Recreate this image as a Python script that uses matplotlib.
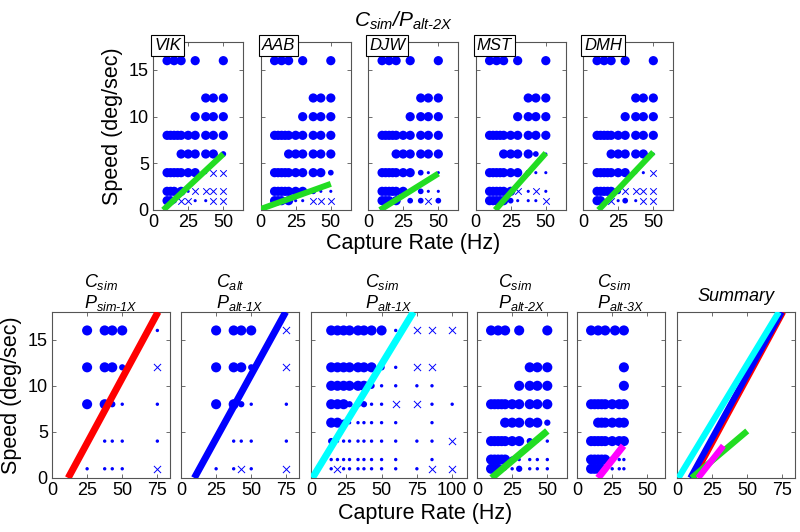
import matplotlib.pyplot as plt

plt.rcParams['font.family'] = 'Liberation Sans'
plt.rcParams['mathtext.fontset'] = 'custom'
plt.rcParams['mathtext.rm'] = 'Liberation Sans:italic'
plt.rcParams['mathtext.it'] = 'Liberation Sans:italic'
plt.rcParams['mathtext.bf'] = 'Liberation Sans:italic:bold'

# capture-rate levels (Hz) used in the rows below
R10 = [10, 12.5, 15, 17.5, 20, 25, 30, 37.5, 42.9, 50]
R_HI = [14.3, 18.75, 23.1, 27.3, 33.3, 37.5, 42.9, 50, 60, 75, 85.7, 100]

# each row: (speed deg/sec, capture rates, marker codes)
# L/M/S = large/medium/small dot, X = cross
VIK = [
    (16, [10, 15, 20, 30, 50], 'LLLLL'),
    (12, [37.5, 42.9, 50], 'LLL'),
    (10, [30, 37.5, 42.9, 50], 'LLLL'),
    (8, R10, 'LLLLLLLLLL'),
    (6, [20, 25, 30, 37.5, 42.9, 50], 'LLLLLM'),
    (4, R10, 'LLLLLLLSXX'),
    (2, [10, 12.5, 15, 20, 25, 30, 37.5, 42.9, 50], 'LLLLSXXXX'),
    (1, [10, 12.5, 15, 20, 25, 30, 37.5, 42.9, 50], 'LLMXXSSXX'),
]
AAB = [
    (16, [10, 15, 20, 30, 50], 'LLLLL'),
    (12, [37.5, 42.9, 50], 'LLL'),
    (10, [30, 37.5, 42.9, 50], 'LLLL'),
    (8, R10, 'LLLLLLLLLL'),
    (6, [20, 25, 30, 37.5, 42.9, 50], 'LLLLLL'),
    (4, R10, 'LLLLLLLLLM'),
    (2, R10, 'LLLLLLLMSS'),
    (1, [10, 12.5, 15, 20, 25, 30, 37.5, 42.9, 50], 'LLLLSSXXX'),
]
DJW = [
    (16, [10, 15, 20, 30, 50], 'LLLLL'),
    (12, [37.5, 42.9, 50], 'LLL'),
    (10, [30, 37.5, 42.9, 50], 'LLLL'),
    (8, R10, 'LLLLLLLLLL'),
    (6, [20, 25, 30, 37.5, 42.9, 50], 'LLLLLL'),
    (4, R10, 'LLLLLLLMSS'),
    (2, [10, 12.5, 15, 17.5, 20, 25, 37.5, 42.9, 50], 'LLLLLLMSS'),
    (1, [10, 12.5, 15, 20, 30, 37.5, 42.9, 50], 'LLLLMMXM'),
]
MST = [
    (16, [10, 15, 20, 30, 50], 'LLLLL'),
    (12, [37.5, 42.9, 50], 'LLL'),
    (10, [30, 37.5, 42.9, 50], 'LLLL'),
    (8, R10, 'LLLLLLLLLL'),
    (6, [20, 25, 30, 37.5, 42.9, 50], 'LLLLMS'),
    (4, R10, 'LLLLLLLMSS'),
    (2, R10, 'LLLLLLXSXS'),
    (1, R10, 'LLLLLMSSSX'),
]
DMH = [
    (16, [10, 15, 20, 30, 50], 'LLLLL'),
    (12, [37.5, 42.9, 50], 'LLL'),
    (10, [30, 37.5, 42.9, 50], 'LLLL'),
    (8, R10, 'LLLLLLLLLL'),
    (6, [20, 25, 30, 37.5, 42.9, 50], 'LLLLLS'),
    (4, R10, 'LLLLLLLSSX'),
    (2, R10, 'LLLLLMXXXX'),
    (1, [10, 12.5, 20, 25, 30, 37.5, 42.9, 50], 'LLXSMSXX'),
]
SUBJECTS = ['VIK', 'AAB', 'DJW', 'MST', 'DMH']
SUBJ_ROWS = [VIK, AAB, DJW, MST, DMH]
# green fit lines (x, y end points)
SUBJ_FITS = [([7.3, 50], [0, 6.0]), ([0, 50], [0.1, 2.8]), ([8.5, 50], [0, 3.9]),
             ([14, 50], [0, 6.1]), ([11, 50], [0, 6.2])]

SIM_1X = [
    (16, [25, 37.5, 42.9, 50, 75], 'LLLLS'),
    (12, [25, 37.5, 42.9, 50, 75], 'LLLMX'),
    (8, [25, 37.5, 42.9, 50, 75], 'LLMSS'),
    (4, [37.5, 42.9, 50, 75], 'SSSS'),
    (1, [25, 37.5, 42.9, 50, 75], 'SSSSX'),
]
ALT_1X = [
    (16, [25, 37.5, 42.9, 50, 75], 'LLLLX'),
    (12, [25, 37.5, 42.9, 50, 75], 'LLLMX'),
    (8, [25, 37.5, 42.9, 50, 75], 'LLMSS'),
    (4, [37.5, 42.9, 50, 75], 'SSSS'),
    (1, [25, 37.5, 42.9, 50, 75], 'SSXSX'),
]
SIMALT_1X = [
    (16, R_HI, 'LLLLLLLLSXXX'),
    (12, R_HI[:11], 'LLLLLLLMSXX'),
    (10, R_HI[:11], 'LLLLLLMSSSS'),
    (8, R_HI, 'LLLMMMSSXXSS'),
    (6, [14.3, 18.75, 23.1, 27.3, 33.3, 37.5, 42.9, 50, 60, 85.7], 'LLMSSSSSSS'),
    (4, R_HI, 'MSSSSSSSSSSX'),
    (2, [14.3, 18.75, 23.1, 27.3, 33.3, 37.5, 42.9, 50, 60, 85.7], 'SSSSSSSSSS'),
    (1, R_HI, 'SXSSSSSSSSXX'),
]
ALT_2X = [
    (16, [10, 15, 20, 30, 50], 'LLLLL'),
    (12, [37.5, 42.9, 50], 'LLL'),
    (10, [30, 37.5, 42.9, 50], 'LLLL'),
    (8, R10, 'LLLLLLLLLL'),
    (6, [20, 25, 30, 37.5, 42.9, 50], 'LLLLLM'),
    (4, R10, 'LLLLLLLMSS'),
    (2, R10, 'LLLLLMSSSS'),
    (1, [10, 12.5, 15, 20, 25, 30, 37.5, 42.9, 50], 'LLLSSMSSS'),
]
ALT_3X = [
    (16, [10, 15, 20, 27, 33.3], 'LLLLL'),
    (12, [33.3], 'L'),
    (10, [33.3], 'L'),
    (8, [10, 12.5, 15, 17.5, 20, 25, 30, 33.3], 'LLLLLLLL'),
    (6, [15, 17.5, 20, 25, 30, 33.3], 'LLLLLL'),
    (4, [10, 12.5, 15, 17.5, 20, 25, 30, 33.3], 'LLLLLLLL'),
    (2, [10, 12.5, 15, 17.5, 20, 25, 30, 33.3], 'LLLLLMSS'),
    (1, [10, 12.5, 15, 17.5, 20, 25, 30, 33.3], 'LLLLMSSS'),
]

RED_FIT = ([11.5, 75.5], [0, 18])
BLUE_FIT = ([9.5, 74.5], [0, 18])
CYAN_FIT = ([1.0, 72.5], [0, 18])
GREEN_FIT = ([10.4, 50], [0, 5.1])
MAGENTA_FIT = ([15, 33], [0, 3.5])

BOTTOM_TITLES = [r'$C_{sim}$' + '\n' + r'$P_{sim\text{-}1X}$',
                 r'$C_{alt}$' + '\n' + r'$P_{alt\text{-}1X}$',
                 r'$C_{sim}$' + '\n' + r'$P_{alt\text{-}1X}$',
                 r'$C_{sim}$' + '\n' + r'$P_{alt\text{-}2X}$',
                 r'$C_{sim}$' + '\n' + r'$P_{alt\text{-}3X}$']

DOT = '#0000ff'
SIZES = {'L': 44, 'M': 17, 'S': 5}
W, H = 800, 532

fig = plt.figure(figsize=(8, 5.32), dpi=100)


def px_axes(l, r, t, b):
    return fig.add_axes([l / W, 1 - b / H, (r - l) / W, (b - t) / H])


def style(ax, xmax, xticks, ylabels):
    ax.set_xlim(0, xmax)
    ax.set_ylim(0, 18)
    ax.set_xticks(xticks)
    ax.set_yticks([0, 5, 10, 15])
    ax.tick_params(direction='in', top=True, right=True, length=3, width=0.6,
                   color='#555555', labelsize=13, pad=3)
    if not ylabels:
        ax.set_yticklabels([])
    for s in ax.spines.values():
        s.set_color('#555555')
        s.set_linewidth(0.8)


def draw_pts(ax, rows, scale):
    for code in 'LMSX':
        xs, ys = [], []
        for speed, rates, codes in rows:
            for r, c in zip(rates, codes):
                if c == code:
                    xs.append(r)
                    ys.append(speed)
        if not xs:
            continue
        if code == 'X':
            ax.scatter(xs, ys, marker='x', s=22 * scale, c=DOT, linewidths=0.7, zorder=2)
        else:
            ax.scatter(xs, ys, s=SIZES[code] * scale, c=DOT, edgecolors='none', zorder=2)


def fit_line(ax, fit, color, lw):
    ax.plot(fit[0], fit[1], color=color, lw=lw, solid_capstyle='butt', zorder=3)


# top row: single subjects
for i, (name, rows, fit) in enumerate(zip(SUBJECTS, SUBJ_ROWS, SUBJ_FITS)):
    left = 153 + i * 107.5
    ax = px_axes(left, left + 90, 42, 210)
    style(ax, 64, [0, 25, 50], i == 0)
    draw_pts(ax, rows, 1.0)
    fit_line(ax, fit, '#22dd22', 4.3)
    ax.text(0.015, 0.982, name, transform=ax.transAxes, ha='left', va='center',
            fontsize=12, style='italic', zorder=10, clip_on=False,
            bbox=dict(boxstyle='square,pad=0.18', fc='white', ec='black', lw=0.8))
    if i == 0:
        ax.set_ylabel('Speed (deg/sec)', fontsize=15.5)

fig.text(403 / W, 1 - 21 / H, r'$C_{sim}/P_{alt\text{-}2X}$', ha='center', va='center', fontsize=15)
fig.text(413 / W, 1 - 244 / H, 'Capture Rate (Hz)', ha='center', va='center', fontsize=15.5)

# bottom row: conditions
bottom_panels = [
    (52, 170, 84, [0, 25, 50, 75], SIM_1X, RED_FIT, '#ff0000'),
    (181, 299, 84, [0, 25, 50, 75], ALT_1X, BLUE_FIT, '#0000ff'),
    (311, 467, 110.5, [0, 25, 50, 75, 100], SIMALT_1X, CYAN_FIT, '#00ffff'),
    (477, 567, 64, [0, 25, 50], ALT_2X, GREEN_FIT, '#22dd22'),
    (577, 665, 62.5, [0, 25, 50], ALT_3X, MAGENTA_FIT, '#ff00ff'),
]
for i, (l, r, xmax, xt, rows, fit, col) in enumerate(bottom_panels):
    ax = px_axes(l, r, 312, 478)
    style(ax, xmax, xt, i == 0)
    draw_pts(ax, rows, 1.2)
    fit_line(ax, fit, col, 5)
    ax.set_title(BOTTOM_TITLES[i], fontsize=13, pad=3, ma='left', linespacing=1.05)
    if i == 0:
        ax.set_ylabel('Speed (deg/sec)', fontsize=15.5)

ax = px_axes(677, 795, 312, 478)
style(ax, 84, [0, 25, 50, 75], False)
for fit, col in [(RED_FIT, '#ff0000'), (BLUE_FIT, '#0000ff'), (CYAN_FIT, '#00ffff'),
                 (GREEN_FIT, '#22dd22'), (MAGENTA_FIT, '#ff00ff')]:
    fit_line(ax, fit, col, 4.5)
ax.set_title('Summary', fontsize=13, style='italic', pad=8)

fig.text(425 / W, 1 - 513 / H, 'Capture Rate (Hz)', ha='center', va='center', fontsize=15.5)

fig.savefig('out.png', dpi=100)
